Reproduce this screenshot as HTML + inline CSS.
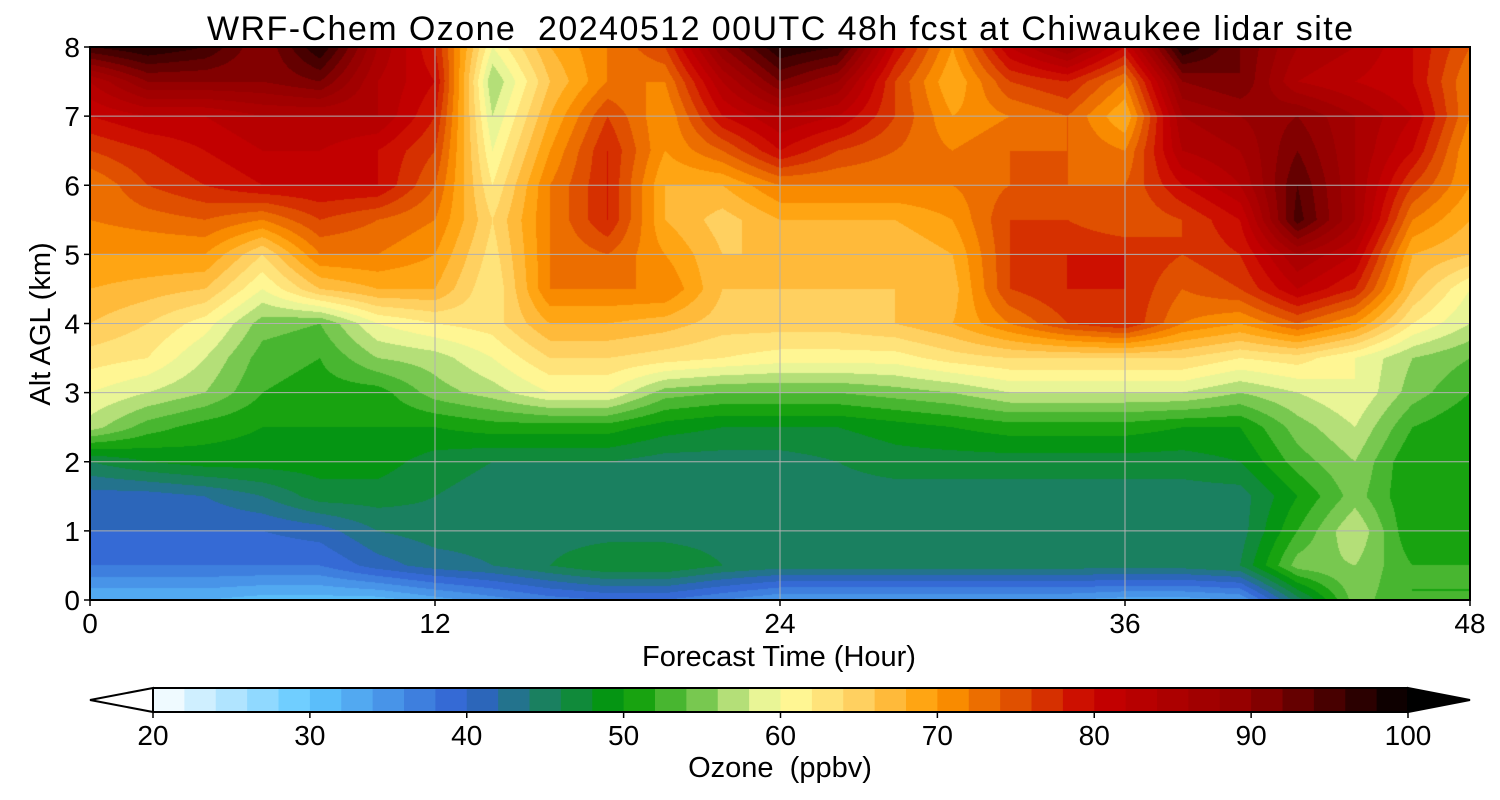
<!DOCTYPE html>
<html><head><meta charset="utf-8">
<style>
body{margin:0;background:#fff;width:1500px;height:800px;overflow:hidden;font-family:"Liberation Sans",sans-serif;}
svg text{font-family:"Liberation Sans",sans-serif;fill:#000;}
#plot{position:absolute;left:90px;top:47px;}
</style></head><body>
<canvas id="plot" width="1380" height="553"></canvas>
<svg id="svg" width="1500" height="800" style="position:absolute;left:0;top:0">
<text x="780" y="40" font-size="34" text-anchor="middle" textLength="1146" xml:space="preserve">WRF-Chem Ozone  20240512 00UTC 48h fcst at Chiwaukee lidar site</text>
<g id="grid"></g>
<rect x="90" y="47" width="1380" height="553" fill="none" stroke="#000" stroke-width="2"/>
<g id="ticks"></g>
<text x="779" y="666" font-size="29" text-anchor="middle">Forecast Time (Hour)</text>
<text transform="translate(50,324) rotate(-90)" font-size="29" text-anchor="middle">Alt AGL (km)</text>
<g id="cbar"></g>
<text x="780" y="777" font-size="29" text-anchor="middle" xml:space="preserve">Ozone  (ppbv)</text>
</svg>
<script>
const hours=[0,2,4,6,8,10,12,14,16,18,20,22,24,26,28,30,32,34,36,38,40,42,44,46,48];
const alts=[0,0.5,1,1.5,2,2.5,3,3.5,4,4.5,5,5.5,6,6.5,7,7.5,8];
const r0=[32,32,32,31,31,31,33,35,37,38,38,36,34,34,34,34,34,34,33,33,34,45,55,52,52];
const r1=[38,38,38,38,38,41,43,44,46,48,48,46,45,45,45,45,45,45,45,45,46,55,56,52,52];
const r2=[40,40,40,40,41,44,45,45,45,45,45,45,45,45,45,45,45,45,45,45,45,52,58,50,50];
const r3=[41,41,42,44,47,47,46,45,45,45,45,45,45,45,45,45,45,45,45,45,45,50,55,50,50];
const r4=[46,48,49,49,49,49,47,46,46,46,45,45,45,46,47,47,47,47,47,47,48,53,56,50,50];
const r5=[57,53,51,50,50,50,50,51,51,51,49,48,48,48,49,50,51,51,51,50,50,55,58,52,50];
const r6=[60,58,56,52,51,51,55,57,60,60,55,54,54,54,55,56,58,58,58,58,56,58,60,55,52];
const r7=[63,62,58,53,52,56,57,60,64,64,63,62,61,61,61,63,64,64,64,64,62,63,60,56,54];
const r8=[66,64,61,55,54,60,62,63,68,68,67,65,65,65,66,68,72,76,78,72,70,74,70,62,58];
const r9=[68,67,66,60,66,68,68,62,72,72,72,66,66,66,66,67,76,78,78,74,76,82,78,66,60];
const r10=[70,70,70,64,72,72,70,63,72,74,70,66,66,66,66,68,76,78,78,76,78,86,82,68,66];
const r11=[72,73,74,72,76,74,72,64,72,78,68,65,68,68,68,70,76,76,74,76,80,95,86,72,68];
const r12=[72,76,78,80,80,80,74,62,72,78,68,68,72,72,72,72,74,74,74,80,84,94,86,76,70];
const r13=[76,78,80,82,82,80,76,60,70,78,70,74,80,76,74,72,74,74,72,84,86,92,86,80,70];
const r14=[80,82,82,84,84,84,78,58,68,76,70,80,84,82,76,70,72,74,68,86,88,90,86,82,72];
const r15=[84,90,90,90,92,84,80,56,66,72,72,84,92,88,76,68,76,78,72,90,92,84,82,80,72];
const r16=[96,98,96,90,98,86,78,60,68,72,76,90,98,96,80,70,82,88,80,98,92,86,84,80,74];
const rows=[r0,r1,r2,r3,r4,r5,r6,r7,r8,r9,r10,r11,r12,r13,r14,r15,r16];
const xTicks=[0,12,24,36,48];
const yTicks=[0,1,2,3,4,5,6,7,8];
const cbTicks=[20,30,40,50,60,70,80,90,100];

const stops=[[20,[255,255,255]],[30,[96,200,255]],[40,[48,96,208]],[45,[26,128,96]],[50,[0,154,0]],[55,[120,200,80]],[58,[210,235,140]],[60,[255,255,160]],[65,[255,208,96]],[70,[255,154,0]],[75,[224,80,0]],[80,[200,0,0]],[90,[144,0,0]],[100,[0,0,0]]];
function cmap(v){v=Math.max(20,Math.min(100,v));
 for(let i=0;i<stops.length-1;i++){const a=stops[i],b=stops[i+1];
  if(v<=b[0]){const t=(v-a[0])/(b[0]-a[0]);return a[1].map((c,k)=>Math.round(c+(b[1][k]-c)*t));}}
 return [0,0,0];}
const X0=90,X1=1470,Y0=600,Y1=47;
const xs=h=>X0+(h/48)*(X1-X0), ys=a=>Y0-(a/8)*(Y0-Y1);
function sample(h,a){
 const fi=Math.min(hours.length-1.0001,h/2), fj=Math.min(alts.length-1.0001,a/0.5);
 const i=Math.floor(fi),j=Math.floor(fj),tx=fi-i,ty=fj-j;
 const v00=rows[j][i],v10=rows[j][i+1],v01=rows[j+1][i],v11=rows[j+1][i+1];
 return (v00*(1-tx)+v10*tx)*(1-ty)+(v01*(1-tx)+v11*tx)*ty;}
const cv=document.getElementById('plot'),ctx=cv.getContext('2d');
const W=cv.width,H=cv.height,img=ctx.createImageData(W,H);
for(let py=0;py<H;py++){const a=(H-py-0.5)/H*8;
 for(let px=0;px<W;px++){const h=(px+0.5)/W*48;
  let v=sample(h,a);v=Math.floor(v/2)*2+1;const c=cmap(v);const o=(py*W+px)*4;
  img.data[o]=c[0];img.data[o+1]=c[1];img.data[o+2]=c[2];img.data[o+3]=255;}}
ctx.putImageData(img,0,0);

const NS='http://www.w3.org/2000/svg';
function mk(tag,attrs,parent){const e=document.createElementNS(NS,tag);for(const k in attrs)e.setAttribute(k,attrs[k]);parent.appendChild(e);return e;}
const gridG=document.getElementById('grid'),ticksG=document.getElementById('ticks');
xTicks.forEach(t=>{
 const l=mk('line',{x1:xs(t),x2:xs(t),y1:Y1,y2:Y0,stroke:'#b0b0b0','stroke-width':1},gridG);
 
 
 const tk=mk('line',{x1:xs(t),x2:xs(t),y1:Y0,y2:Y0+6,stroke:'#000','stroke-width':1.5},ticksG);
 
 
 const tx=mk('text',{x:xs(t),y:Y0+33,'font-size':28,'text-anchor':'middle'},ticksG);tx.textContent=t;
 
 
});
yTicks.forEach(t=>{
 const l=mk('line',{x1:X0,x2:X1,y1:ys(t),y2:ys(t),stroke:'#b0b0b0','stroke-width':1},gridG);
 
 
 const tk=mk('line',{x1:X0-6,x2:X0,y1:ys(t),y2:ys(t),stroke:'#000','stroke-width':1.5},ticksG);
 
 
 const tx=mk('text',{x:X0-10,y:ys(t)+10,'font-size':28,'text-anchor':'end'},ticksG);tx.textContent=t;
 
 
});
const cbG=document.getElementById('cbar');const C0=153,C1=1408,CY=688,CH=24;
const cx=v=>C0+(v-20)/80*(C1-C0);
for(let v=20;v<100;v+=2){const c=cmap(v+1);
 const r=mk('rect',{x:cx(v),y:CY,width:cx(v+2)-cx(v)+0.6,height:CH,fill:`rgb(${c.join(',')})`},cbG);
 
 }
const lowTri=mk('polygon',{points:`${C0},${CY} 90,${CY+CH/2} ${C0},${CY+CH}`,fill:'#fff',stroke:'#000','stroke-width':2},cbG);


const highTri=mk('polygon',{points:`${C1},${CY} 1470,${CY+CH/2} ${C1},${CY+CH}`,fill:'#000',stroke:'#000','stroke-width':2},cbG);


const cbTop=mk('line',{x1:C0,x2:C1,y1:CY,y2:CY,stroke:'#000','stroke-width':2},cbG);


const cbBot=mk('line',{x1:C0,x2:C1,y1:CY+CH,y2:CY+CH,stroke:'#000','stroke-width':2},cbG);


cbTicks.forEach(t=>{
 const tk=mk('line',{x1:cx(t),x2:cx(t),y1:CY+CH,y2:CY+CH+6,stroke:'#000','stroke-width':1.5},cbG);
 
 
 const tx=mk('text',{x:cx(t),y:CY+CH+33,'font-size':28,'text-anchor':'middle'},cbG);tx.textContent=t;
 
 
});
</script>
</body></html>
